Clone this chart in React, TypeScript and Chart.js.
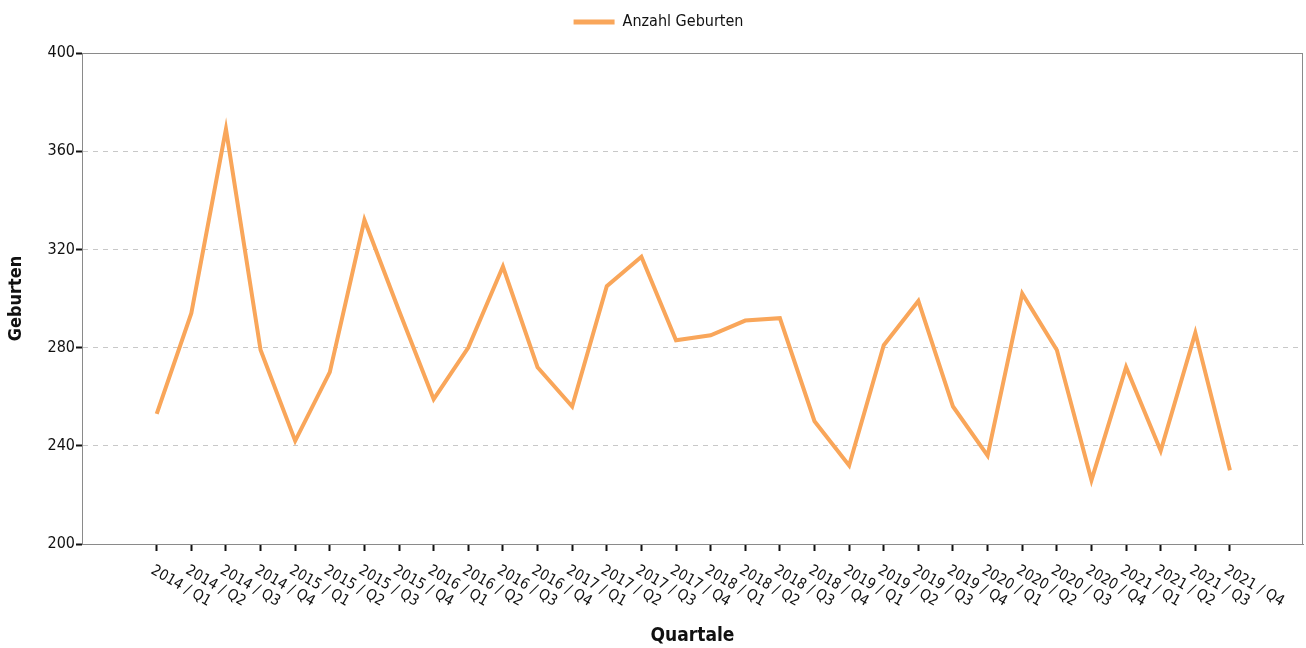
import React, { useEffect, useRef } from "react";
import { Chart, registerables } from "chart.js";

Chart.register(...registerables);

const categories = [
  "2014 / Q1", "2014 / Q2", "2014 / Q3", "2014 / Q4",
  "2015 / Q1", "2015 / Q2", "2015 / Q3", "2015 / Q4",
  "2016 / Q1", "2016 / Q2", "2016 / Q3", "2016 / Q4",
  "2017 / Q1", "2017 / Q2", "2017 / Q3", "2017 / Q4",
  "2018 / Q1", "2018 / Q2", "2018 / Q3", "2018 / Q4",
  "2019 / Q1", "2019 / Q2", "2019 / Q3", "2019 / Q4",
  "2020 / Q1", "2020 / Q2", "2020 / Q3", "2020 / Q4",
  "2021 / Q1", "2021 / Q2", "2021 / Q3", "2021 / Q4",
];

const births = [
  253, 294, 369, 279,
  242, 270, 332, 295,
  259, 280, 313, 272,
  256, 305, 317, 283,
  285, 291, 292, 250,
  232, 281, 299, 256,
  236, 302, 279, 226,
  272, 238, 286, 230,
];

const seriesLabel = "Anzahl Geburten";
const xTitle = "Quartale";
const yTitle = "Geburten";
const yMin = 200;
const yMax = 400;
const yStep = 40;

const FONT = '"DejaVu Sans Condensed", "Liberation Sans Narrow", "DejaVu Sans", sans-serif';
const LINE_COLOR = "#f9a65a";

export default function App() {
  const canvasRef = useRef<HTMLCanvasElement | null>(null);

  useEffect(() => {
    const canvas = canvasRef.current;
    if (!canvas) return;

    const framePlugin = {
      id: "frameAndLabels",
      afterInit(chart: any) {
        const lg = chart.legend;
        if (lg && !lg.__patched) {
          const origFit = lg.fit.bind(lg);
          lg.fit = () => {
            origFit();
            lg.height = 53;
          };
          const origDraw = lg.draw.bind(lg);
          lg.draw = () => {
            lg.ctx.save();
            lg.ctx.translate(7, 0);
            origDraw();
            lg.ctx.restore();
          };
          lg.__patched = true;
        }
      },
      afterDraw(chart: any) {
        const { ctx, chartArea } = chart;
        const xs = chart.scales.x;
        ctx.save();
        ctx.strokeStyle = "#8a8a8a";
        ctx.lineWidth = 1;
        ctx.strokeRect(chartArea.left + 0.5, chartArea.top + 0.5, chartArea.right - chartArea.left - 1, chartArea.bottom - chartArea.top);
        ctx.font = `15px ${FONT}`;
        ctx.fillStyle = "#111";
        ctx.textBaseline = "top";
        ctx.textAlign = "left";
        categories.forEach((c, i) => {
          const x = xs.getPixelForValue(i);
          ctx.save();
          ctx.translate(x - 1, chartArea.bottom + 19);
          ctx.rotate(Math.PI / 6);
          ctx.fillText(c, 0, 0);
          ctx.restore();
        });
        ctx.restore();
      },
    };

    const chart = new Chart(canvas, {
      type: "line",
      data: {
        datasets: [
          {
            label: seriesLabel,
            data: births.map((v, i) => ({ x: i, y: v })),
            borderColor: LINE_COLOR,
            backgroundColor: LINE_COLOR,
            borderWidth: 4,
            pointRadius: 0,
            tension: 0,
            fill: false,
          },
        ],
      },
      options: {
        responsive: true,
        maintainAspectRatio: false,
        animation: false,
        layout: { padding: { left: 0, right: 3, top: 0, bottom: 0 } },
        plugins: {
          tooltip: { enabled: false },
          legend: {
            display: true,
            position: "top",
            labels: {
              boxWidth: 41,
              boxHeight: 5,
              padding: 14,
              color: "#111",
              font: { family: FONT, size: 16 },
              generateLabels: (ch: any) =>
                Chart.defaults.plugins.legend.labels
                  .generateLabels(ch)
                  .map((l: any) => ({ ...l, lineWidth: 0, fillStyle: LINE_COLOR })),
            },
          },
        },
        scales: {
          x: {
            type: "linear",
            min: -2.158,
            max: 33.11,
            afterBuildTicks: (s: any) => {
              s.ticks = categories.map((_, i) => ({ value: i }));
            },
            afterFit: (s: any) => {
              s.height = 104;
            },
            ticks: { display: false },
            grid: {
              drawOnChartArea: false,
              drawTicks: true,
              tickLength: 7,
              tickWidth: 2,
              tickColor: "#111",
            },
            border: { color: "#8a8a8a", width: 1 },
            title: {
              display: true,
              text: xTitle,
              color: "#111",
              font: { family: FONT, size: 19, weight: "bold", lineHeight: 1.2 },
              padding: { top: 0, bottom: 1 },
            },
          },
          y: {
            min: yMin,
            max: yMax,
            afterFit: (s: any) => {
              s.width = 82;
            },
            ticks: {
              stepSize: yStep,
              color: "#111",
              padding: 1,
              font: { family: FONT, size: 16 },
            },
            grid: {
              color: (c: any) =>
                c.tick && (c.tick.value === yMin || c.tick.value === yMax) ? "rgba(0,0,0,0)" : "#c8c8c8",
              lineWidth: 1,
              drawTicks: true,
              tickLength: 6,
              tickWidth: 2,
              tickColor: "#111",
            },
            border: { color: "#8a8a8a", width: 1, dash: [5, 5] },
            title: {
              display: true,
              text: yTitle,
              color: "#111",
              font: { family: FONT, size: 18, weight: "bold", lineHeight: 1.2 },
              padding: { top: 6, bottom: 0 },
            },
          },
        },
      },
      plugins: [framePlugin],
    } as any);

    return () => {
      chart.destroy();
    };
  }, []);

  return (
    <div style={{ position: "absolute", left: 0, top: 0, width: 1306, height: 648 }}>
      <canvas ref={canvasRef} />
    </div>
  );
}
